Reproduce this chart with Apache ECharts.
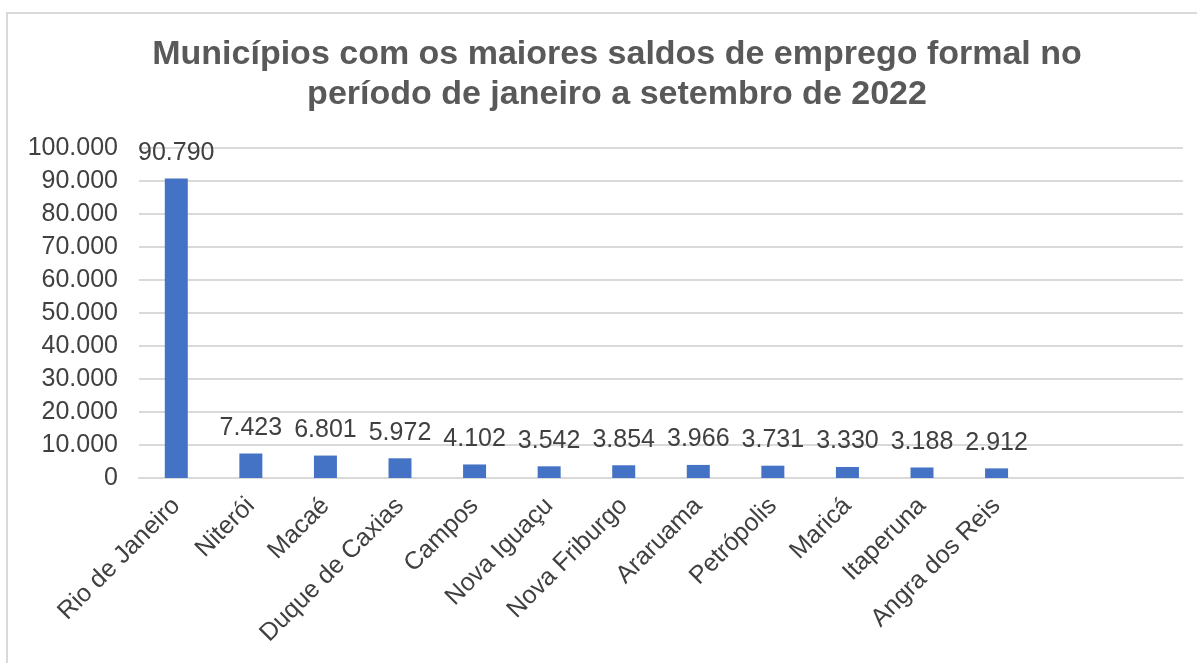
<!DOCTYPE html>
<html>
<head>
<meta charset="utf-8">
<script src="https://cdn.jsdelivr.net/npm/echarts@6/dist/echarts.min.js"></script>
<style>
  html, body { margin: 0; padding: 0; background: #fff; }
  #frame {
    position: absolute; left: 6px; top: 12px; width: 1200px; height: 660px;
    border-left: 2px solid #d9d9d9; border-top: 2px solid #d9d9d9;
  }
  #chart { position: absolute; left: 0; top: 0; width: 1197px; height: 663px; }
</style>
</head>
<body>
<div id="frame"></div>
<div id="chart"></div>
<script>
// municípios (two empty slots at the end, as in the original)
const categories = ['Rio de Janeiro', 'Niterói', 'Macaé', 'Duque de Caxias', 'Campos', 'Nova Iguaçu',
  'Nova Friburgo', 'Araruama', 'Petrópolis', 'Maricá', 'Itaperuna', 'Angra dos Reis', '', '']
const saldos = [90790, 7423, 6801, 5972, 4102, 3542, 3854, 3966, 3731, 3330, 3188, 2912, null, null]

const fmt = (v) => String(v).replace(/\B(?=(\d{3})+(?!\d))/g, '.')

const option = {
  animation: false,
  textStyle: { fontFamily: 'Liberation Sans, Arial, sans-serif' },
  title: {
    text: 'Municípios com os maiores saldos de emprego formal no\nperíodo de janeiro a setembro de 2022',
    left: 612,
    top: 30,
    textAlign: 'center',
    textStyle: {
      color: '#595959',
      fontSize: 34,
      fontWeight: 'bold',
      lineHeight: 40,
      fontFamily: 'Liberation Sans, Arial, sans-serif',
    },
  },
  grid: {
    left: 139,
    right: 14,
    top: 148,
    bottom: 185,
    containLabel: false,
  },
  xAxis: {
    type: 'category',
    data: categories,
    axisLine: { show: true, lineStyle: { color: '#d9d9d9', width: 2 } },
    axisTick: { show: false },
    axisLabel: {
      interval: 0,
      rotate: 45,
      color: '#404040',
      fontSize: 25,
      margin: 24,
    },
  },
  yAxis: {
    type: 'value',
    min: 0,
    max: 100000,
    interval: 10000,
    axisLine: { show: false },
    axisTick: { show: false },
    splitLine: { lineStyle: { color: '#d9d9d9', width: 2 } },
    axisLabel: {
      color: '#404040',
      fontSize: 25,
      margin: 21,
      formatter: fmt,
    },
  },
  series: [
    {
      type: 'bar',
      data: saldos,
      barWidth: 23,
      itemStyle: { color: '#4472c4' },
      label: {
        show: true,
        position: 'top',
        distance: 13,
        color: '#404040',
        fontSize: 25,
        formatter: (p) => fmt(p.value),
      },
    },
  ],
}

const myChart = echarts.init(document.getElementById('chart'))
myChart.setOption(option)
</script>
</body>
</html>
